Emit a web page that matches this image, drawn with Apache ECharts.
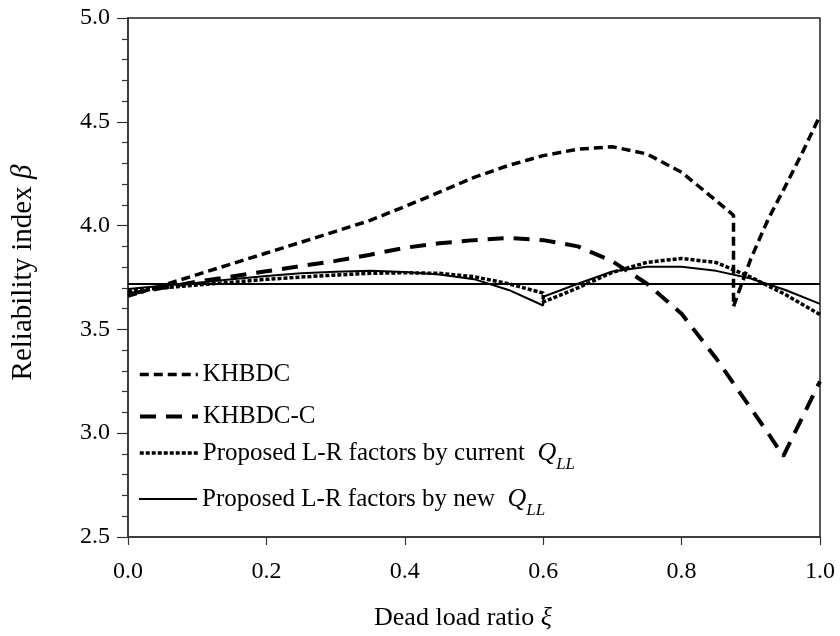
<!DOCTYPE html>
<html>
<head>
<meta charset="utf-8">
<script src="https://cdn.jsdelivr.net/npm/echarts@6/dist/echarts.min.js"></script>
<style>
  html, body { margin: 0; padding: 0; background: #fff; }
  #chart { width: 840px; height: 636px; }
</style>
</head>
<body>
<div id="chart"></div>
<script>
// Axis ticks
const xTicks = [0.0, 0.2, 0.4, 0.6, 0.8, 1.0];
const yTicks = [2.5, 3.0, 3.5, 4.0, 4.5, 5.0];

// Target reliability index
const targetBeta = 3.72;

// KHBDC
const xKhbdc = [0, 0.05, 0.1, 0.15, 0.2, 0.25, 0.3, 0.35, 0.4, 0.45, 0.5, 0.55, 0.6, 0.65, 0.7, 0.75, 0.8, 0.85, 0.875, 0.875, 0.9, 0.925, 0.95, 0.975, 1.0];
const yKhbdc = [3.66, 3.712, 3.764, 3.816, 3.868, 3.92, 3.972, 4.025, 4.092, 4.161, 4.232, 4.29, 4.337, 4.368, 4.38, 4.345, 4.257, 4.12, 4.05, 3.61, 3.84, 4.03, 4.19, 4.355, 4.53];

// KHBDC-C
const xKhbdcC = [0, 0.05, 0.1, 0.15, 0.2, 0.25, 0.3, 0.35, 0.4, 0.45, 0.5, 0.55, 0.6, 0.65, 0.7, 0.75, 0.8, 0.85, 0.9, 0.925, 0.947, 0.975, 1.0];
const yKhbdcC = [3.67, 3.70, 3.73, 3.755, 3.78, 3.805, 3.83, 3.86, 3.893, 3.915, 3.93, 3.94, 3.93, 3.90, 3.828, 3.72, 3.575, 3.36, 3.12, 3.0, 2.89, 3.08, 3.25];

// Proposed L-R factors by current Q_LL
const xCurrent = [0, 0.05, 0.1, 0.15, 0.2, 0.25, 0.3, 0.35, 0.4, 0.45, 0.5, 0.55, 0.6, 0.6, 0.65, 0.7, 0.75, 0.8, 0.85, 0.9, 0.95, 1.0];
const yCurrent = [3.685, 3.70, 3.714, 3.727, 3.741, 3.752, 3.762, 3.77, 3.773, 3.77, 3.754, 3.72, 3.675, 3.632, 3.70, 3.775, 3.823, 3.842, 3.822, 3.752, 3.668, 3.572];

// Proposed L-R factors by new Q_LL
const xNew = [0, 0.05, 0.1, 0.15, 0.2, 0.25, 0.3, 0.35, 0.4, 0.45, 0.5, 0.55, 0.6, 0.6, 0.65, 0.7, 0.75, 0.8, 0.85, 0.9, 0.95, 1.0];
const yNew = [3.695, 3.71, 3.725, 3.742, 3.757, 3.77, 3.778, 3.782, 3.777, 3.765, 3.742, 3.69, 3.615, 3.657, 3.72, 3.779, 3.802, 3.802, 3.782, 3.745, 3.69, 3.623];

const seriesNames = [
  'KHBDC',
  'KHBDC-C',
  'Proposed L-R factors by current',
  'Proposed L-R factors by new'
];

const pair = (xs, ys) => xs.map((x, i) => [x, ys[i]]);

const FONT = '"Liberation Serif", "Times New Roman", serif';
const INK = '#000';

const lineSeries = (name, xs, ys, width, dash) => ({
  name: name,
  type: 'line',
  data: pair(xs, ys),
  symbol: 'none',
  smooth: false,
  silent: true,
  lineStyle: { color: INK, width: width, type: dash, cap: 'butt' },
  itemStyle: { color: INK }
});

const legendText = {
  fontFamily: FONT, fontSize: 25, color: INK,
  rich: {
    n: { fontFamily: FONT, fontSize: 25, color: INK },
    q: { fontFamily: FONT, fontSize: 26, fontStyle: 'italic', color: INK },
    s: { fontFamily: FONT, fontSize: 17, fontStyle: 'italic', color: INK, padding: [24, 0, 0, 0] }
  }
};

// One legend per entry so every row sits at its own height;
// only the line sample is drawn, the marker dot is hidden.
const legendAt = (name, top, width, dash) => ({
  data: [name],
  orient: 'vertical',
  left: 138,
  top: top,
  padding: 0,
  itemWidth: 58,
  itemHeight: 14,
  selectedMode: false,
  itemStyle: { opacity: 0 },
  lineStyle: { color: INK, width: width, type: dash, cap: 'butt' },
  textStyle: legendText,
  formatter: function (n) {
    if (n === seriesNames[2] || n === seriesNames[3]) {
      return '{n|' + n + '  }{q|Q}{s|LL}';
    }
    return n;
  }
});

const chart = echarts.init(document.getElementById('chart'), null, { renderer: 'canvas' });

chart.setOption({
  backgroundColor: '#fff',
  animation: false,
  grid: {
    left: 128, right: 20, top: 18, bottom: 99,
    show: true, borderColor: '#222', borderWidth: 1.5, backgroundColor: 'transparent'
  },
  legend: [
    legendAt(seriesNames[0], 362, 3.5, [9, 5]),
    legendAt(seriesNames[1], 404, 4, [16, 10]),
    legendAt(seriesNames[2], 440, 3.5, [4, 2]),
    legendAt(seriesNames[3], 486, 2, 'solid')
  ],
  xAxis: {
    type: 'value',
    min: xTicks[0],
    max: xTicks[xTicks.length - 1],
    interval: xTicks[1] - xTicks[0],
    name: '{a|Dead load ratio }{b|ξ}',
    nameLocation: 'middle',
    nameGap: 68,
    nameTextStyle: {
      padding: [0, 22, 0, 0],
      rich: {
        a: { fontFamily: FONT, fontSize: 26, color: INK },
        b: { fontFamily: FONT, fontSize: 26, fontStyle: 'italic', color: INK }
      }
    },
    axisLine: { show: true, lineStyle: { color: '#333', width: 1.5 } },
    axisTick: { show: true, inside: false, length: 8, lineStyle: { color: '#333', width: 1.2 } },
    splitLine: { show: false },
    axisLabel: {
      margin: 23, fontFamily: FONT, fontSize: 24, color: INK,
      formatter: v => v.toFixed(1)
    }
  },
  yAxis: {
    type: 'value',
    min: yTicks[0],
    max: yTicks[yTicks.length - 1],
    interval: yTicks[1] - yTicks[0],
    name: '{a|Reliability index }{b|β}',
    nameLocation: 'middle',
    nameRotate: 90,
    nameGap: 90,
    nameTextStyle: {
      padding: [0, 0, 0, 10],
      rich: {
        a: { fontFamily: FONT, fontSize: 29, color: INK },
        b: { fontFamily: FONT, fontSize: 29, fontStyle: 'italic', color: INK }
      }
    },
    axisLine: { show: true, lineStyle: { color: '#333', width: 1.5 } },
    axisTick: { show: true, inside: false, length: 11, lineStyle: { color: '#333', width: 1.2 } },
    minorTick: { show: true, splitNumber: 5, length: 6, lineStyle: { color: '#333', width: 1.2 } },
    splitLine: { show: false },
    minorSplitLine: { show: false },
    axisLabel: {
      margin: 18, fontFamily: FONT, fontSize: 24, color: INK,
      formatter: v => v.toFixed(1)
    }
  },
  series: [
    lineSeries(seriesNames[0], xKhbdc, yKhbdc, 3.5, [9, 5]),
    lineSeries(seriesNames[1], xKhbdcC, yKhbdcC, 4, [16, 10]),
    lineSeries(seriesNames[2], xCurrent, yCurrent, 3.5, [4, 2]),
    Object.assign(lineSeries(seriesNames[3], xNew, yNew, 2, 'solid'), {
      markLine: {
        silent: true,
        symbol: ['none', 'none'],
        label: { show: false },
        lineStyle: { color: INK, width: 2, type: 'solid' },
        data: [{ yAxis: targetBeta }]
      }
    })
  ]
});
</script>
</body>
</html>
